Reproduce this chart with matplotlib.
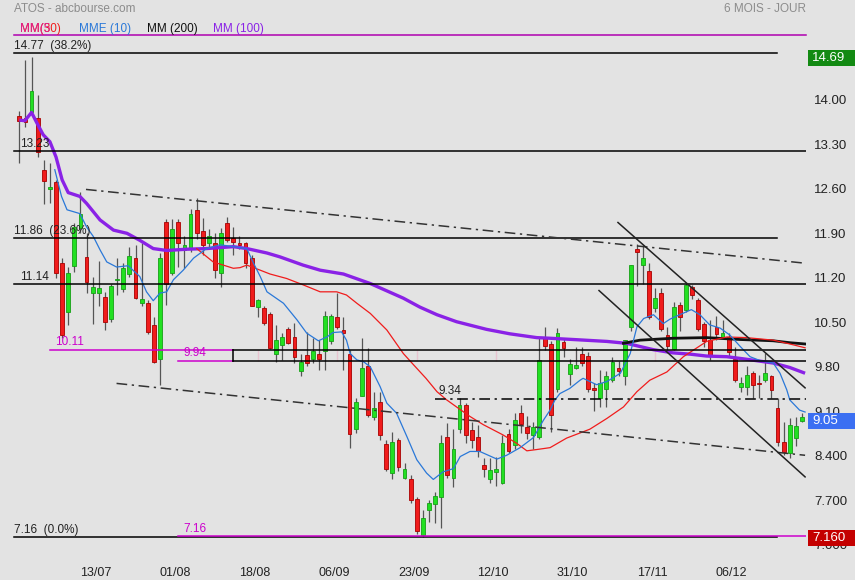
import matplotlib.pyplot as plt
from matplotlib.patches import Rectangle
from matplotlib import transforms

plt.rcParams['font.family'] = ['Liberation Sans', 'DejaVu Sans']

# daily candles, 24/06 -> 22/12 (one entry per trading day)
opens = [13.78, 13.75, 13.84, 13.75, 12.94, 12.64, 12.74, 11.47, 10.70, 11.43,
         12.02, 11.57, 11.00, 11.00, 10.94, 10.60, 11.20, 11.07, 11.30, 11.55,
         10.85, 10.84, 10.50, 9.96, 12.12, 11.31, 12.12, 11.67, 11.70, 12.30,
         11.97, 11.79, 11.78, 11.31, 12.10, 11.86, 11.79, 11.78, 11.55, 10.78,
         10.76, 10.67, 10.04, 10.18, 10.43, 10.31, 9.78, 10.03, 9.97, 10.04,
         10.09, 10.25, 10.62, 10.42, 10.05, 8.87, 9.38, 9.85, 9.05, 9.28,
         8.63, 8.17, 8.69, 8.10, 8.07, 7.76, 7.19, 7.59, 7.68, 7.79,
         8.73, 8.09, 8.87, 9.24, 8.85, 8.73, 8.30, 8.07, 8.18, 8.01,
         8.78, 8.61, 9.11, 8.90, 8.77, 8.73, 10.29, 10.20, 9.49, 10.23,
         9.73, 9.83, 10.05, 10.01, 9.50, 9.35, 9.49, 9.63, 9.82, 9.70,
         10.47, 11.69, 11.44, 11.35, 10.76, 11.00, 10.34, 10.12, 10.81, 10.73,
         11.09, 10.89, 10.51, 10.26, 10.46, 10.31, 10.31, 9.97, 9.53, 9.53,
         9.74, 9.58, 9.64, 9.69, 9.19, 8.66, 8.48, 8.72, 8.99]
highs = [13.86, 14.66, 14.71, 14.11, 13.09, 13.05, 12.78, 11.55, 11.41, 12.10,
         12.59, 11.95, 11.26, 11.50, 11.02, 11.15, 11.55, 11.47, 11.73, 11.76,
         11.79, 10.89, 10.63, 11.63, 12.16, 12.16, 12.16, 11.90, 12.33, 12.49,
         12.18, 12.00, 11.95, 12.02, 12.19, 12.04, 11.90, 11.80, 11.60, 10.90,
         10.80, 10.70, 10.50, 10.37, 10.47, 10.53, 10.05, 10.39, 10.29, 10.26,
         10.72, 10.67, 11.00, 10.63, 10.10, 9.35, 10.29, 10.13, 9.45, 9.45,
         8.69, 8.82, 8.72, 8.33, 8.14, 7.80, 7.59, 7.75, 7.88, 8.77,
         8.95, 8.87, 9.35, 9.27, 8.98, 8.93, 8.40, 8.40, 8.43, 8.77,
         8.87, 9.11, 9.24, 9.06, 8.98, 10.31, 10.47, 10.24, 10.45, 10.30,
         9.97, 10.16, 10.16, 10.08, 9.58, 9.79, 9.77, 10.00, 9.93, 10.27,
         11.44, 11.77, 11.76, 11.47, 11.08, 11.08, 10.47, 10.86, 10.86, 11.16,
         11.13, 10.92, 10.55, 10.58, 10.64, 10.57, 10.38, 10.16, 9.68, 9.85,
         9.78, 9.72, 10.06, 9.72, 9.35, 8.98, 9.03, 9.05, 9.11]
lows = [13.05, 13.61, 13.80, 13.14, 12.40, 12.41, 11.23, 10.30, 10.50, 11.33,
        11.95, 11.00, 10.51, 10.80, 10.42, 10.55, 10.97, 11.02, 11.25, 10.90,
        10.80, 10.35, 9.90, 9.55, 10.81, 11.28, 11.41, 11.39, 11.65, 11.85,
        11.60, 11.70, 11.23, 11.10, 11.80, 11.60, 11.70, 11.39, 10.79, 10.63,
        10.50, 10.12, 9.92, 9.95, 10.20, 9.90, 9.69, 9.85, 9.90, 9.79,
        9.79, 10.20, 10.44, 9.79, 8.56, 8.80, 9.38, 9.05, 9.00, 8.69,
        8.20, 8.07, 8.20, 8.08, 7.70, 7.22, 7.16, 7.40, 7.39, 7.30,
        8.10, 7.95, 8.80, 8.64, 8.56, 8.43, 8.11, 8.02, 7.96, 8.00,
        8.48, 8.55, 8.80, 8.70, 8.55, 8.70, 10.10, 8.82, 9.45, 10.00,
        9.55, 9.80, 9.85, 9.45, 9.14, 9.21, 9.21, 9.60, 9.70, 9.55,
        10.40, 11.11, 11.15, 10.60, 10.70, 10.40, 10.10, 10.10, 10.41, 10.70,
        10.90, 10.40, 10.15, 9.95, 10.27, 10.30, 10.00, 9.60, 9.45, 9.39,
        9.35, 9.35, 9.60, 9.35, 8.60, 8.45, 8.41, 8.60, 8.97]
closes = [13.71, 13.69, 14.17, 13.22, 12.77, 12.67, 11.31, 10.34, 11.31, 12.04,
          12.25, 11.18, 11.10, 11.08, 10.55, 11.11, 11.22, 11.39, 11.58, 10.93,
          10.90, 10.39, 9.92, 11.55, 11.14, 12.00, 11.78, 11.76, 12.25, 11.94,
          11.76, 11.89, 11.36, 11.95, 11.84, 11.81, 11.76, 11.48, 10.79, 10.89,
          10.53, 10.13, 10.27, 10.31, 10.22, 9.99, 9.91, 9.90, 10.09, 9.97,
          10.64, 10.64, 10.47, 10.37, 8.79, 9.29, 9.82, 9.08, 9.19, 8.77,
          8.23, 8.66, 8.27, 8.23, 7.75, 7.26, 7.47, 7.70, 7.81, 8.64,
          8.14, 8.55, 9.24, 8.77, 8.69, 8.52, 8.23, 8.22, 8.23, 8.65,
          8.52, 9.00, 8.94, 8.80, 8.90, 9.95, 10.17, 9.09, 10.37, 10.14,
          9.88, 9.87, 9.90, 9.49, 9.47, 9.58, 9.69, 9.92, 9.78, 10.27,
          11.44, 11.64, 11.55, 10.63, 10.92, 10.43, 10.17, 10.78, 10.62, 11.13,
          10.97, 10.43, 10.24, 10.01, 10.36, 10.37, 10.08, 9.63, 9.58, 9.71,
          9.55, 9.57, 9.75, 9.48, 8.66, 8.50, 8.93, 8.91, 9.05]

# moving averages (x = candle index)
mme10_x = [5.8, 6.9, 7.8, 9.9, 11, 12.1, 13.2, 14.3, 15.9, 17.8, 19.7, 20.8, 21.9, 23, 24.1,
           25.2, 26.8, 28.5, 30.6, 32.8, 35, 37.2, 38.3, 39.4, 40.5, 43.2, 45.4, 47, 48.9,
           50.3, 51.3, 52.7, 53.5, 54.1, 55.2, 56.3, 57.4, 59, 60.1, 61.7, 63.4, 65, 66.6,
           67.7, 69.3, 71, 72.1, 73.7, 75.3, 78.1, 79.7, 81.9, 84.1, 85.7, 86.8, 87.6, 88.4,
           90, 91.7, 92.2, 94.4, 96.1, 98.3, 99.9, 101, 102.1, 103.7, 105.3, 106.4, 108,
           109.9, 111.3, 112.9, 114.6, 116.2, 117.9, 119.5, 121.1, 123.3, 124.4, 125.5, 126,
           127.6, 128.5]
mme10_y = [12.94, 12.52, 12.31, 12.25, 12.04, 11.89, 11.68, 11.49, 11.41, 11.43, 11.26, 11.02,
           10.88, 11.00, 11.02, 11.21, 11.36, 11.55, 11.70, 11.76, 11.73, 11.70, 11.47, 11.26,
           11.02, 10.84, 10.58, 10.37, 10.25, 10.31, 10.38, 10.39, 10.26, 10.05, 9.95, 9.92,
           9.84, 9.53, 9.27, 9.11, 8.74, 8.38, 8.17, 8.07, 8.19, 8.24, 8.43, 8.51, 8.51, 8.39,
           8.45, 8.57, 8.73, 9.00, 9.16, 9.32, 9.42, 9.50, 9.63, 9.66, 9.56, 9.61, 9.74, 10.05,
           10.47, 10.60, 10.66, 10.52, 10.59, 10.66, 10.74, 10.66, 10.50, 10.45, 10.34, 10.16,
           10.00, 9.94, 9.90, 9.74, 9.48, 9.32, 9.16, 9.13]
mm50_x = [29, 31.7, 35, 36.1, 37.2, 39.4, 41, 43.7, 46.4, 49.2, 51.9, 53.5, 55.2, 57.4, 60.1,
          62.8, 64.4, 66.5, 68.3, 69.9, 71.5, 73.7, 75.9, 79.1, 81.3, 83, 84.6, 86.8, 89.5,
          93.3, 96.1, 98.8, 101, 103.1, 105.9, 108.6, 112.4, 115.7, 118.9, 123.3, 126, 128.5]
mm50_y = [11.70, 11.49, 11.39, 11.40, 11.44, 11.36, 11.30, 11.23, 11.13, 11.02, 11.02, 10.97,
          10.84, 10.68, 10.42, 10.05, 9.88, 9.66, 9.45, 9.32, 9.21, 9.06, 8.93, 8.77, 8.64,
          8.52, 8.54, 8.57, 8.72, 8.86, 9.03, 9.21, 9.45, 9.63, 9.76, 10.00, 10.24, 10.31,
          10.30, 10.26, 10.20, 10.14]
mm100_x = [0, 0.9, 2, 2.9, 3.9, 5, 6, 7, 8, 9.9, 11, 13.2, 15.4, 17.6, 19.7, 21.9, 24.1, 27.4,
           30.6, 35, 37.2, 40.5, 42.6, 46.4, 49.2, 53, 57.4, 62.8, 65.5, 68.3, 71.5, 76.4,
           80.2, 84.6, 86.8, 90.6, 96.1, 99.3, 103.7, 106.9, 109.7, 112.4, 115.7, 118.9,
           123.3, 126, 128.5]
mm100_y = [13.72, 13.71, 13.84, 13.67, 13.49, 13.38, 13.14, 12.78, 12.58, 12.52, 12.41, 12.15,
           11.99, 11.94, 11.83, 11.70, 11.67, 11.69, 11.70, 11.73, 11.70, 11.63, 11.57, 11.44,
           11.36, 11.30, 11.15, 10.92, 10.78, 10.66, 10.55, 10.43, 10.36, 10.30, 10.29, 10.27,
           10.24, 10.21, 10.11, 10.06, 10.04, 10.01, 10.00, 9.96, 9.90, 9.83, 9.74]
mm200_x = [98.8, 101.5, 106.9, 112.4, 117.9, 123.3, 126, 128.5]
mm200_y = [10.21, 10.26, 10.29, 10.30, 10.27, 10.25, 10.22, 10.20]

# drawn levels and trend lines
fib_levels = [14.77, 11.86, 7.16]
fib_labels = ['14.77  (38.2%)', '11.86  (23.6%)', '7.16  (0.0%)']
other_levels = [13.23, 11.14]
box_levels = [10.11, 9.94]
trend_up = ([10.9, 128.5], [12.63, 11.47])
trend_low = ([15.9, 128.5], [9.58, 8.45])
chan_a = ([97.9, 128.5], [12.11, 9.51])
chan_b = ([94.8, 128.5], [11.04, 8.11])

tick_pos = [13, 26, 39, 52, 65, 78, 91, 104, 117]
tick_labels = ['13/07', '01/08', '18/08', '06/09', '23/09', '12/10', '31/10', '17/11', '06/12']
right_ticks = [14.70, 14.00, 13.30, 12.60, 11.90, 11.20, 10.50, 9.80, 9.10, 8.40, 7.70, 7.00]
right_labels = ['14.70', '14.00', '13.30', '12.60', '11.90', '11.20', '10.50', '9.80', '9.10',
                '8.400', '7.700', '7.000']

BG = '#e3e3e3'
fig = plt.figure(figsize=(8.55, 5.80), dpi=100, facecolor=BG)
ax = fig.add_axes([0, 25 / 580, 806 / 855, 520 / 580])
ax.set_facecolor(BG)
ax.set_xlim(-3.16, 128.65)
ax.set_ylim(6.882, 15.058)
for s in ax.spines.values():
    s.set_visible(False)

# candles
n = len(opens)
xs = list(range(n))
for i in xs:
    o, h, l, c = opens[i], highs[i], lows[i], closes[i]
    top, bot = max(o, c), min(o, c)
    ax.vlines(i, min(l, bot), max(h, top), color='#555555', lw=0.9, zorder=2)
    up = c >= o
    ax.bar(i, max(top - bot, 0.02), bottom=bot, width=0.62,
           color='#22e022' if up else '#f01c1c',
           edgecolor='#16a016' if up else '#a80000', linewidth=0.6, zorder=3)

# moving averages
ax.plot(mm100_x, mm100_y, color='#8a22e6', lw=2.4, zorder=4, solid_capstyle='butt')
ax.plot(mm200_x, mm200_y, color='#111111', lw=2.0, zorder=4)
ax.plot(mm50_x, mm50_y, color='#f01c1c', lw=0.9, zorder=4)
ax.plot(mme10_x, mme10_y, color='#2a78d8', lw=0.9, zorder=4)

# fibonacci / support levels
for lv, lab in zip(fib_levels, fib_labels):
    ax.plot([-0.87, 123.9], [lv, lv], color='black', lw=1.1, zorder=5)
    ax.text(-0.87, lv + 0.02, lab, fontsize=8.5, color='#222222', va='bottom', ha='left', zorder=6)
for lv in other_levels:
    ax.plot([-0.87, 128.65], [lv, lv], color='black', lw=1.1, zorder=5)
    ax.text(0.11, lv + 0.02, f'{lv:.2f}', fontsize=8.5, color='#222222', va='bottom', ha='left', zorder=6)

MAG = '#cc00cc'
ax.plot([5.0, 34.95], [box_levels[0]] * 2, color=MAG, lw=1.1, zorder=5)
ax.text(5.84, box_levels[0] + 0.02, '10.11', fontsize=8.5, color=MAG, va='bottom', zorder=6)
ax.plot([25.95, 34.95], [box_levels[1]] * 2, color=MAG, lw=1.1, zorder=5)
ax.text(26.77, box_levels[1] + 0.02, '9.94', fontsize=8.5, color=MAG, va='bottom', zorder=6)
ax.plot([34.95, 128.65], [box_levels[0]] * 2, color='black', lw=1.1, zorder=5)
ax.plot([34.95, 128.65], [box_levels[1]] * 2, color='black', lw=1.1, zorder=5)
ax.plot([34.95, 34.95], box_levels, color='black', lw=1.1, zorder=5)
ax.vlines([t for t in tick_pos if t > 35], box_levels[1], box_levels[0],
          color='#e8c4d0', lw=1, zorder=1)
ax.plot([25.95, 128.65], [7.185, 7.185], color=MAG, lw=1.1, zorder=5)
ax.text(26.77, 7.2, '7.16', fontsize=8.5, color=MAG, va='bottom', zorder=6)

ax.plot([67.98, 128.65], [9.34, 9.34], color='black', lw=1.1, ls=(0, (7, 3, 1.5, 3)), zorder=5)
ax.text(68.5, 9.36, '9.34', fontsize=8.5, color='#222222', va='bottom', zorder=6)

# trend lines
for tx, ty in (trend_up, trend_low):
    ax.plot(tx, ty, color='#333333', lw=1.1, ls=(0, (7, 3, 1.5, 3)), zorder=5)
for tx, ty in (chan_a, chan_b):
    ax.plot(tx, ty, color='#222222', lw=1.1, zorder=5)

# axes ticks (labels sit a little above their level, as on the site)
ax.set_xticks([t - 0.5 for t in tick_pos])
ax.set_xticklabels(tick_labels, fontsize=9, color='#222222')
ax.tick_params(axis='x', length=0, pad=9)
ax.yaxis.tick_right()
ax.set_yticks([v + 0.04 for v in right_ticks])
ax.set_yticklabels(right_labels, fontsize=9.5, color='#222222')
ax.tick_params(axis='y', length=0, pad=6)

# price boxes on the right
bt = transforms.blended_transform_factory(fig.transFigure, ax.transData)
x0 = 808 / 855
for price, txt, col in ((14.69, '14.69', '#138a13'), (8.99, '9.05', '#3b6ff2'), (7.15, '7.160', '#c40000')):
    ax.add_artist(Rectangle((x0, price - 0.125), 1 - x0, 0.25, transform=bt,
                            facecolor=col, edgecolor='none', clip_on=False, zorder=10))
    ax.text(812 / 855, price, txt, transform=bt, fontsize=9.5, color='white',
            va='center', ha='left', clip_on=False, zorder=11)

# header
def fx(px):
    return px / 855

def fy(py):
    return 1 - py / 580

fig.text(fx(14), fy(9), 'ATOS - abcbourse.com', fontsize=8.5, color='#8c8c8c', va='center')
fig.text(fx(806), fy(9), '6 MOIS - JOUR', fontsize=8.5, color='#8c8c8c', va='center', ha='right')
fig.text(fx(20), fy(29), 'MM(30)', fontsize=8.5, color='#f01c1c', va='center')
fig.text(fx(20), fy(29), 'MM(5', fontsize=8.5, color='#e0208a', va='center')
fig.text(fx(79), fy(29), 'MME (10)', fontsize=8.5, color='#2a78d8', va='center')
fig.text(fx(147), fy(29), 'MM (200)', fontsize=8.5, color='#111111', va='center')
fig.text(fx(213), fy(29), 'MM (100)', fontsize=8.5, color='#8a22e6', va='center')
fig.add_artist(plt.Line2D([fx(14), fx(806)], [fy(35), fy(35)], color='#b000b0', lw=1.1))

fig.savefig('out.png', dpi=100, facecolor=BG)
